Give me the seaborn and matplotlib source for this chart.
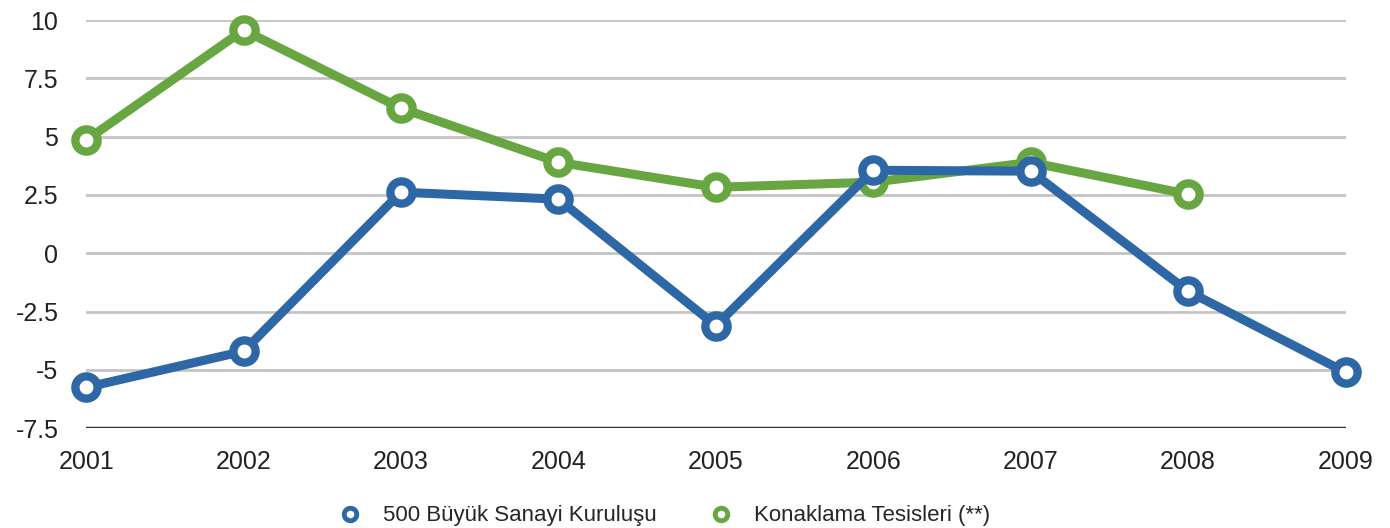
import numpy as np
import pandas as pd
import matplotlib
matplotlib.use("Agg")
import matplotlib.pyplot as plt
import seaborn as sns

# data
years = [2001, 2002, 2003, 2004, 2005, 2006, 2007, 2008, 2009]
sanayi = [-5.75, -4.2, 2.62, 2.32, -3.1, 3.56, 3.52, -1.63, -5.1]
konaklama = [4.85, 9.57, 6.22, 3.9, 2.83, 3.05, 3.9, 2.53, np.nan]
series_names = ["500 Büyük Sanayi Kuruluşu", "Konaklama Tesisleri (**)"]
yticks = [-7.5, -5, -2.5, 0, 2.5, 5, 7.5, 10]
ytick_labels = ["-7.5", "-5", "-2.5", "0", "2.5", "5", "7.5", "10"]

blue = "#2e67a6"
green = "#67a640"

df = pd.DataFrame({
    "Yıl": years * 2,
    "Değer": sanayi + konaklama,
    "Seri": [series_names[0]] * len(years) + [series_names[1]] * len(years),
})

sns.set_style("white")
plt.rcParams["font.family"] = ["Liberation Sans", "DejaVu Sans"]

fig = plt.figure(figsize=(13.9, 5.28), dpi=100)
ax = fig.add_axes([0.062, 0.189, 0.906, 0.773])

# gridlines
for v in yticks[1:]:
    ax.axhline(v, color="#c4c4c4", lw=2, zorder=0)
ax.axhline(yticks[0], color="#333333", lw=2.5, zorder=0)

# green first so the blue series sits on top
sns.lineplot(data=df, x="Yıl", y="Değer", hue="Seri",
             palette={series_names[0]: blue, series_names[1]: green},
             hue_order=[series_names[1], series_names[0]],
             linewidth=6.5, marker="o", markersize=16,
             markerfacecolor="white", markeredgewidth=6,
             legend=False, ax=ax)

for line, c in zip(ax.get_lines()[-2:], [green, blue]):
    line.set_markeredgecolor(c)
    line.set_clip_on(False)

ax.set_xlim(years[0], years[-1])
ax.set_ylim(yticks[0], yticks[-1])
ax.set_xticks(years)
ax.set_xticklabels([str(y) for y in years], fontsize=18, color="#222222")
ax.set_yticks(yticks)
ax.set_yticklabels(ytick_labels, fontsize=18, color="#222222")
ax.tick_params(axis="y", length=0, pad=20)
ax.tick_params(axis="x", length=0, pad=16)
ax.set_xlabel("")
ax.set_ylabel("")
for s in ax.spines.values():
    s.set_visible(False)

handles = [
    plt.Line2D([], [], linestyle="none", marker="o", markersize=9,
               markerfacecolor="white", markeredgecolor=blue, markeredgewidth=3.5),
    plt.Line2D([], [], linestyle="none", marker="o", markersize=9,
               markerfacecolor="white", markeredgecolor=green, markeredgewidth=3.5),
]
fig.legend(handles, series_names, loc="lower center", ncol=2,
           bbox_to_anchor=(0.478, -0.035), frameon=False, fontsize=16,
           handletextpad=1.0, columnspacing=2.4, handlelength=1.0)

fig.savefig("out.png", dpi=100)
